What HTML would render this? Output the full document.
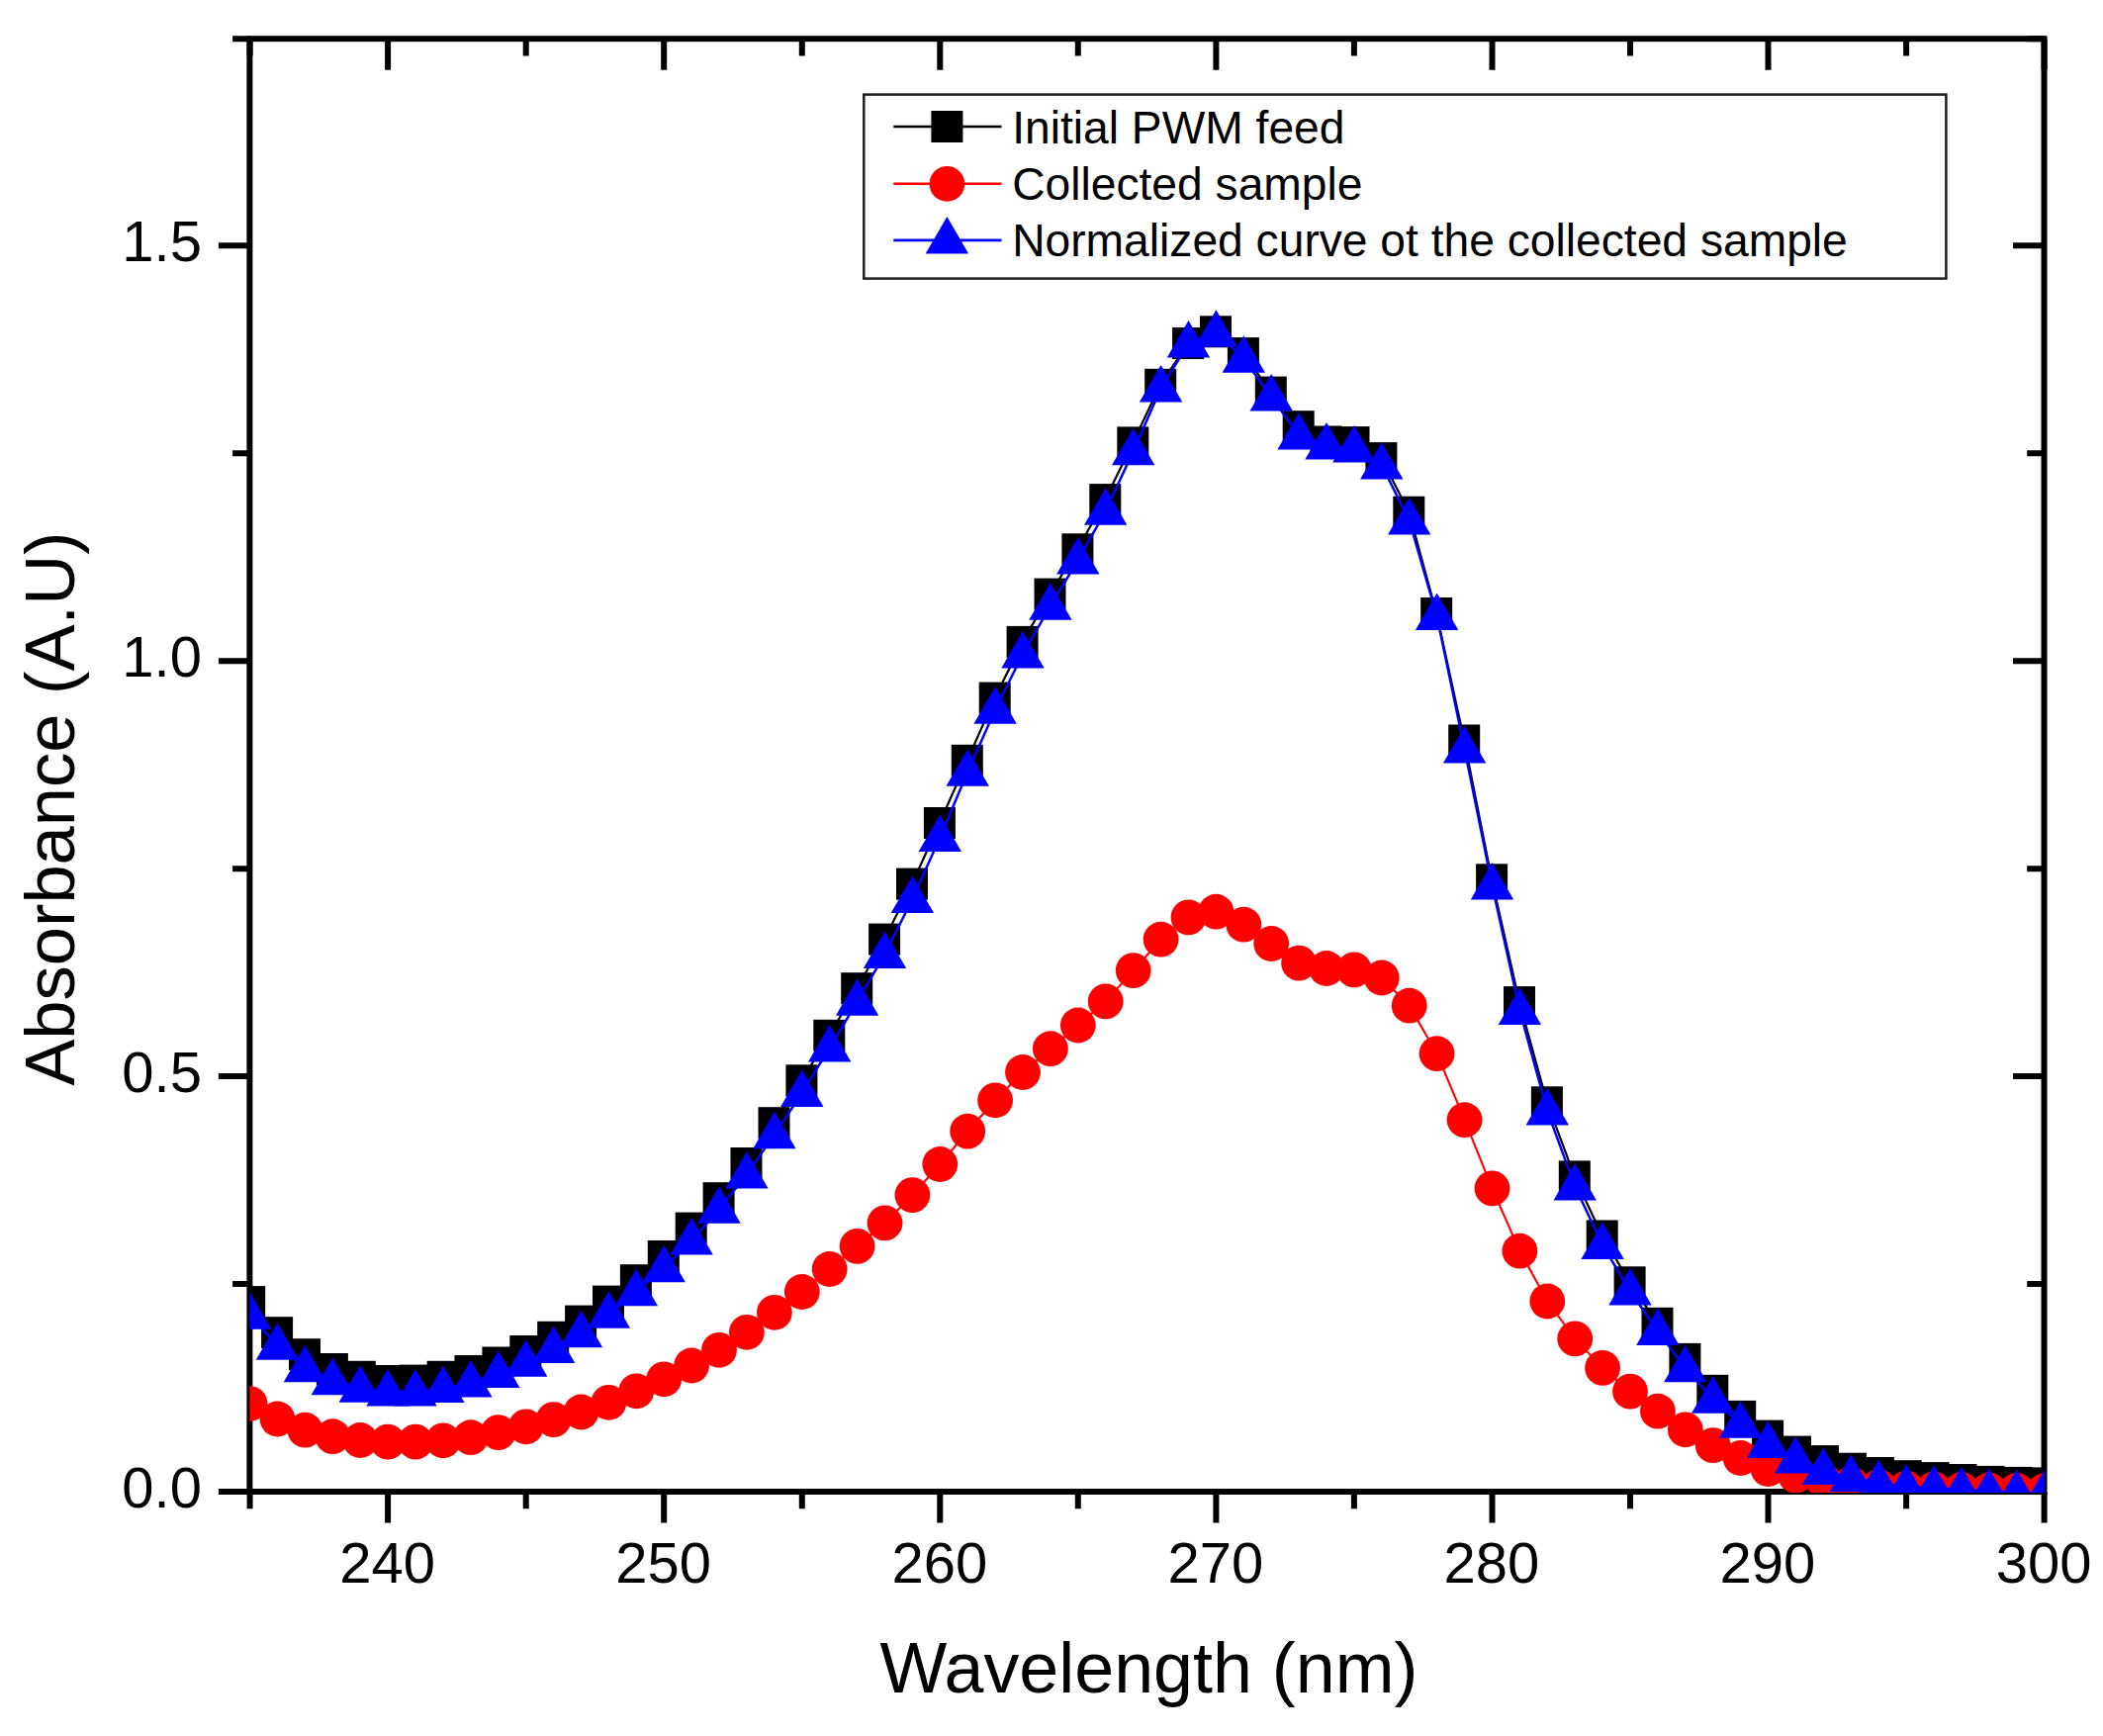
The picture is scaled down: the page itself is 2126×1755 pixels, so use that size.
<!DOCTYPE html>
<html lang="en"><head><meta charset="utf-8"><title>UV absorbance spectra</title>
<style>html,body{margin:0;padding:0;background:#fff}body{width:2126px;height:1755px;overflow:hidden}svg{display:block}text{font-family:"Liberation Sans",Arial,Helvetica,sans-serif;fill:#000}</style></head><body>
<svg width="2126" height="1755" viewBox="0 0 2126 1755">
<rect width="2126" height="1755" fill="#fff"/>
<defs><clipPath id="plot"><rect x="252.4" y="39.2" width="1814.6" height="1469.8"/></clipPath></defs>
<g stroke="#000" stroke-width="6" fill="none" stroke-linecap="butt">
<rect x="252.4" y="39.2" width="1814.1" height="1468.8"/>
<path d="M252.6 1508v17.3M252.6 39.2v17.3M392.1 1508v31.5M392.1 39.2v31.5M531.7 1508v17.3M531.7 39.2v17.3M671.2 1508v31.5M671.2 39.2v31.5M810.8 1508v17.3M810.8 39.2v17.3M950.3 1508v31.5M950.3 39.2v31.5M1089.8 1508v17.3M1089.8 39.2v17.3M1229.4 1508v31.5M1229.4 39.2v31.5M1368.9 1508v17.3M1368.9 39.2v17.3M1508.5 1508v31.5M1508.5 39.2v31.5M1648 1508v17.3M1648 39.2v17.3M1787.5 1508v31.5M1787.5 39.2v31.5M1927.1 1508v17.3M1927.1 39.2v17.3M2066.6 1508v31.5M2066.6 39.2v31.5M252.4 1508h-31.5M2066.5 1508h-31.5M252.4 1298h-17.3M2066.5 1298h-17.3M252.4 1088.1h-31.5M2066.5 1088.1h-31.5M252.4 878.2h-17.3M2066.5 878.2h-17.3M252.4 668.2h-31.5M2066.5 668.2h-31.5M252.4 458.2h-17.3M2066.5 458.2h-17.3M252.4 248.3h-31.5M2066.5 248.3h-31.5M252.4 39.2h-17.3M2066.5 39.2h-17.3"/>
</g>
<g clip-path="url(#plot)">
<polyline points="252.2,1316.1 280.1,1347.2 308,1369.2 335.9,1384 363.8,1391.8 391.7,1396 419.6,1395.6 447.6,1391.8 475.5,1386 503.4,1377.5 531.3,1366 559.2,1351.8 587.1,1335.6 615,1315.6 642.9,1294.2 670.8,1270 698.7,1241.6 726.6,1211.2 754.5,1176 782.5,1135.2 810.4,1092.3 838.3,1046.8 866.2,999.2 894.1,949.6 922,893.6 949.9,832 977.8,768.8 1005.7,705.6 1033.6,648.9 1061.5,600.6 1089.4,555.3 1117.3,505.1 1145.3,447.4 1173.2,388.8 1201.1,347 1229,335.3 1256.9,357.1 1284.8,396.6 1312.7,431.2 1340.6,446.5 1368.5,447.1 1396.4,463.1 1424.3,517.7 1452.2,620 1480.2,748.5 1508.1,889.3 1536,1013.1 1563.9,1114.3 1591.8,1189.4 1619.7,1249.5 1647.6,1296.3 1675.5,1337.8 1703.4,1373.9 1731.3,1405.8 1759.2,1431.9 1787.1,1451.6 1815,1467.6 1843,1477.1 1870.9,1484.7 1898.8,1489 1926.7,1492.2 1954.6,1494.1 1982.5,1496 2010.4,1497.9 2038.3,1498.9 2066.2,1499.4" fill="none" stroke="#000" stroke-width="2.2"/>
<g fill="#000"><rect x="236.2" y="1300.1" width="32" height="32"/><rect x="264.1" y="1331.2" width="32" height="32"/><rect x="292" y="1353.2" width="32" height="32"/><rect x="319.9" y="1368" width="32" height="32"/><rect x="347.8" y="1375.8" width="32" height="32"/><rect x="375.7" y="1380" width="32" height="32"/><rect x="403.6" y="1379.6" width="32" height="32"/><rect x="431.6" y="1375.8" width="32" height="32"/><rect x="459.5" y="1370" width="32" height="32"/><rect x="487.4" y="1361.5" width="32" height="32"/><rect x="515.3" y="1350" width="32" height="32"/><rect x="543.2" y="1335.8" width="32" height="32"/><rect x="571.1" y="1319.6" width="32" height="32"/><rect x="599" y="1299.6" width="32" height="32"/><rect x="626.9" y="1278.2" width="32" height="32"/><rect x="654.8" y="1254" width="32" height="32"/><rect x="682.7" y="1225.6" width="32" height="32"/><rect x="710.6" y="1195.2" width="32" height="32"/><rect x="738.5" y="1160" width="32" height="32"/><rect x="766.5" y="1119.2" width="32" height="32"/><rect x="794.4" y="1076.3" width="32" height="32"/><rect x="822.3" y="1030.8" width="32" height="32"/><rect x="850.2" y="983.2" width="32" height="32"/><rect x="878.1" y="933.6" width="32" height="32"/><rect x="906" y="877.6" width="32" height="32"/><rect x="933.9" y="816" width="32" height="32"/><rect x="961.8" y="752.8" width="32" height="32"/><rect x="989.7" y="689.6" width="32" height="32"/><rect x="1017.6" y="632.9" width="32" height="32"/><rect x="1045.5" y="584.6" width="32" height="32"/><rect x="1073.4" y="539.3" width="32" height="32"/><rect x="1101.3" y="489.1" width="32" height="32"/><rect x="1129.3" y="431.4" width="32" height="32"/><rect x="1157.2" y="372.8" width="32" height="32"/><rect x="1185.1" y="331" width="32" height="32"/><rect x="1213" y="319.3" width="32" height="32"/><rect x="1240.9" y="341.1" width="32" height="32"/><rect x="1268.8" y="380.6" width="32" height="32"/><rect x="1296.7" y="415.2" width="32" height="32"/><rect x="1324.6" y="430.5" width="32" height="32"/><rect x="1352.5" y="431.1" width="32" height="32"/><rect x="1380.4" y="447.1" width="32" height="32"/><rect x="1408.3" y="501.7" width="32" height="32"/><rect x="1436.2" y="604" width="32" height="32"/><rect x="1464.2" y="732.5" width="32" height="32"/><rect x="1492.1" y="873.3" width="32" height="32"/><rect x="1520" y="997.1" width="32" height="32"/><rect x="1547.9" y="1098.3" width="32" height="32"/><rect x="1575.8" y="1173.4" width="32" height="32"/><rect x="1603.7" y="1233.5" width="32" height="32"/><rect x="1631.6" y="1280.3" width="32" height="32"/><rect x="1659.5" y="1321.8" width="32" height="32"/><rect x="1687.4" y="1357.9" width="32" height="32"/><rect x="1715.3" y="1389.8" width="32" height="32"/><rect x="1743.2" y="1415.9" width="32" height="32"/><rect x="1771.1" y="1435.6" width="32" height="32"/><rect x="1799" y="1451.6" width="32" height="32"/><rect x="1827" y="1461.1" width="32" height="32"/><rect x="1854.9" y="1468.7" width="32" height="32"/><rect x="1882.8" y="1473" width="32" height="32"/><rect x="1910.7" y="1476.2" width="32" height="32"/><rect x="1938.6" y="1478.1" width="32" height="32"/><rect x="1966.5" y="1480" width="32" height="32"/><rect x="1994.4" y="1481.9" width="32" height="32"/><rect x="2022.3" y="1482.9" width="32" height="32"/><rect x="2050.2" y="1483.4" width="32" height="32"/></g>
<polyline points="252.6,1419 280.5,1434.5 308.4,1445.7 336.3,1452.2 364.2,1456 392.1,1457.6 420,1457.6 448,1456.3 475.9,1453.2 503.8,1448.1 531.7,1442.3 559.6,1435.1 587.5,1427.5 615.4,1417.8 643.3,1406.3 671.2,1394.3 699.1,1380.5 727,1364.8 754.9,1346.8 782.9,1326.8 810.8,1306 838.7,1283 866.6,1259.9 894.5,1236.4 922.4,1208.1 950.3,1177 978.2,1143.7 1006.1,1112.3 1034,1084 1061.9,1060.2 1089.8,1036.5 1117.7,1012.4 1145.7,981.1 1173.6,949.7 1201.5,927.4 1229.4,921.7 1257.3,934.7 1285.2,954 1313.1,973.6 1341,979 1368.9,980.4 1396.8,988.5 1424.7,1016.7 1452.6,1065.2 1480.6,1132.2 1508.5,1201.4 1536.4,1264.7 1564.3,1315.5 1592.2,1353.4 1620.1,1382.9 1648,1406.6 1675.9,1426.7 1703.8,1445.3 1731.7,1461.1 1759.6,1474 1787.5,1485 1815.4,1491.8 1843.4,1496.6 1871.3,1500.3 1899.2,1503 1927.1,1504.6 1955,1505.3 1982.9,1506 2010.8,1506.5 2038.7,1506.9 2066.6,1507.2" fill="none" stroke="#f00" stroke-width="2.1"/>
<g fill="#f00"><circle cx="252.6" cy="1419" r="17.9"/><circle cx="280.5" cy="1434.5" r="17.9"/><circle cx="308.4" cy="1445.7" r="17.9"/><circle cx="336.3" cy="1452.2" r="17.9"/><circle cx="364.2" cy="1456" r="17.9"/><circle cx="392.1" cy="1457.6" r="17.9"/><circle cx="420" cy="1457.6" r="17.9"/><circle cx="448" cy="1456.3" r="17.9"/><circle cx="475.9" cy="1453.2" r="17.9"/><circle cx="503.8" cy="1448.1" r="17.9"/><circle cx="531.7" cy="1442.3" r="17.9"/><circle cx="559.6" cy="1435.1" r="17.9"/><circle cx="587.5" cy="1427.5" r="17.9"/><circle cx="615.4" cy="1417.8" r="17.9"/><circle cx="643.3" cy="1406.3" r="17.9"/><circle cx="671.2" cy="1394.3" r="17.9"/><circle cx="699.1" cy="1380.5" r="17.9"/><circle cx="727" cy="1364.8" r="17.9"/><circle cx="754.9" cy="1346.8" r="17.9"/><circle cx="782.9" cy="1326.8" r="17.9"/><circle cx="810.8" cy="1306" r="17.9"/><circle cx="838.7" cy="1283" r="17.9"/><circle cx="866.6" cy="1259.9" r="17.9"/><circle cx="894.5" cy="1236.4" r="17.9"/><circle cx="922.4" cy="1208.1" r="17.9"/><circle cx="950.3" cy="1177" r="17.9"/><circle cx="978.2" cy="1143.7" r="17.9"/><circle cx="1006.1" cy="1112.3" r="17.9"/><circle cx="1034" cy="1084" r="17.9"/><circle cx="1061.9" cy="1060.2" r="17.9"/><circle cx="1089.8" cy="1036.5" r="17.9"/><circle cx="1117.7" cy="1012.4" r="17.9"/><circle cx="1145.7" cy="981.1" r="17.9"/><circle cx="1173.6" cy="949.7" r="17.9"/><circle cx="1201.5" cy="927.4" r="17.9"/><circle cx="1229.4" cy="921.7" r="17.9"/><circle cx="1257.3" cy="934.7" r="17.9"/><circle cx="1285.2" cy="954" r="17.9"/><circle cx="1313.1" cy="973.6" r="17.9"/><circle cx="1341" cy="979" r="17.9"/><circle cx="1368.9" cy="980.4" r="17.9"/><circle cx="1396.8" cy="988.5" r="17.9"/><circle cx="1424.7" cy="1016.7" r="17.9"/><circle cx="1452.6" cy="1065.2" r="17.9"/><circle cx="1480.6" cy="1132.2" r="17.9"/><circle cx="1508.5" cy="1201.4" r="17.9"/><circle cx="1536.4" cy="1264.7" r="17.9"/><circle cx="1564.3" cy="1315.5" r="17.9"/><circle cx="1592.2" cy="1353.4" r="17.9"/><circle cx="1620.1" cy="1382.9" r="17.9"/><circle cx="1648" cy="1406.6" r="17.9"/><circle cx="1675.9" cy="1426.7" r="17.9"/><circle cx="1703.8" cy="1445.3" r="17.9"/><circle cx="1731.7" cy="1461.1" r="17.9"/><circle cx="1759.6" cy="1474" r="17.9"/><circle cx="1787.5" cy="1485" r="17.9"/><circle cx="1815.4" cy="1491.8" r="17.9"/><circle cx="1843.4" cy="1496.6" r="17.9"/><circle cx="1871.3" cy="1500.3" r="17.9"/><circle cx="1899.2" cy="1503" r="17.9"/><circle cx="1927.1" cy="1504.6" r="17.9"/><circle cx="1955" cy="1505.3" r="17.9"/><circle cx="1982.9" cy="1506" r="17.9"/><circle cx="2010.8" cy="1506.5" r="17.9"/><circle cx="2038.7" cy="1506.9" r="17.9"/><circle cx="2066.6" cy="1507.2" r="17.9"/></g>
<polyline points="252.6,1329.6 280.5,1360.5 308.4,1383 336.3,1396 364.2,1403.6 392.1,1407.4 420,1407.4 448,1403.8 475.9,1398.2 503.8,1388.8 531.7,1377.6 559.6,1363.7 587.5,1348 615.4,1328.5 643.3,1306.1 671.2,1282 699.1,1254.4 727,1222.5 754.9,1187.3 782.9,1147.1 810.8,1104.9 838.7,1059.3 866.6,1012.6 894.5,964.7 922.4,908.8 950.3,846.7 978.2,780.5 1006.1,717.5 1034,661.2 1061.9,612.6 1089.8,566.3 1117.7,516.6 1145.7,456.1 1173.6,392.4 1201.5,347.4 1229.4,336.5 1257.3,362.5 1285.2,401.2 1313.1,440.3 1341,450.2 1368.9,453.3 1396.8,470.2 1424.7,526.2 1452.6,622.8 1480.6,757.4 1508.5,895.2 1536.4,1021.7 1564.3,1123.4 1592.2,1199.2 1620.1,1258.8 1648,1305.2 1675.9,1345.8 1703.8,1383 1731.7,1414.6 1759.6,1439.5 1787.5,1459.9 1815.4,1475.3 1843.4,1486.9 1871.3,1493.8 1899.2,1498.9 1927.1,1503.2 1955,1504.3 1982.9,1506.1 2010.8,1507.7 2038.7,1508.7 2066.6,1509.4" fill="none" stroke="#00f" stroke-width="2.5"/>
<g fill="#00f"><path d="M252.6 1306.3l21.7 37.5h-43.4z"/><path d="M280.5 1337.2l21.7 37.5h-43.4z"/><path d="M308.4 1359.7l21.7 37.5h-43.4z"/><path d="M336.3 1372.7l21.7 37.5h-43.4z"/><path d="M364.2 1380.3l21.7 37.5h-43.4z"/><path d="M392.1 1384.1l21.7 37.5h-43.4z"/><path d="M420 1384.1l21.7 37.5h-43.4z"/><path d="M448 1380.5l21.7 37.5h-43.4z"/><path d="M475.9 1374.9l21.7 37.5h-43.4z"/><path d="M503.8 1365.5l21.7 37.5h-43.4z"/><path d="M531.7 1354.3l21.7 37.5h-43.4z"/><path d="M559.6 1340.4l21.7 37.5h-43.4z"/><path d="M587.5 1324.8l21.7 37.5h-43.4z"/><path d="M615.4 1305.2l21.7 37.5h-43.4z"/><path d="M643.3 1282.8l21.7 37.5h-43.4z"/><path d="M671.2 1258.7l21.7 37.5h-43.4z"/><path d="M699.1 1231.1l21.7 37.5h-43.4z"/><path d="M727 1199.2l21.7 37.5h-43.4z"/><path d="M754.9 1164l21.7 37.5h-43.4z"/><path d="M782.9 1123.8l21.7 37.5h-43.4z"/><path d="M810.8 1081.6l21.7 37.5h-43.4z"/><path d="M838.7 1036l21.7 37.5h-43.4z"/><path d="M866.6 989.3l21.7 37.5h-43.4z"/><path d="M894.5 941.4l21.7 37.5h-43.4z"/><path d="M922.4 885.5l21.7 37.5h-43.4z"/><path d="M950.3 823.4l21.7 37.5h-43.4z"/><path d="M978.2 757.2l21.7 37.5h-43.4z"/><path d="M1006.1 694.2l21.7 37.5h-43.4z"/><path d="M1034 637.9l21.7 37.5h-43.4z"/><path d="M1061.9 589.3l21.7 37.5h-43.4z"/><path d="M1089.8 543l21.7 37.5h-43.4z"/><path d="M1117.7 493.3l21.7 37.5h-43.4z"/><path d="M1145.7 432.8l21.7 37.5h-43.4z"/><path d="M1173.6 369.1l21.7 37.5h-43.4z"/><path d="M1201.5 324.1l21.7 37.5h-43.4z"/><path d="M1229.4 313.2l21.7 37.5h-43.4z"/><path d="M1257.3 339.2l21.7 37.5h-43.4z"/><path d="M1285.2 377.9l21.7 37.5h-43.4z"/><path d="M1313.1 417l21.7 37.5h-43.4z"/><path d="M1341 426.9l21.7 37.5h-43.4z"/><path d="M1368.9 430l21.7 37.5h-43.4z"/><path d="M1396.8 446.9l21.7 37.5h-43.4z"/><path d="M1424.7 503l21.7 37.5h-43.4z"/><path d="M1452.6 599.5l21.7 37.5h-43.4z"/><path d="M1480.6 734.1l21.7 37.5h-43.4z"/><path d="M1508.5 871.9l21.7 37.5h-43.4z"/><path d="M1536.4 998.4l21.7 37.5h-43.4z"/><path d="M1564.3 1100.1l21.7 37.5h-43.4z"/><path d="M1592.2 1175.9l21.7 37.5h-43.4z"/><path d="M1620.1 1235.5l21.7 37.5h-43.4z"/><path d="M1648 1281.9l21.7 37.5h-43.4z"/><path d="M1675.9 1322.5l21.7 37.5h-43.4z"/><path d="M1703.8 1359.7l21.7 37.5h-43.4z"/><path d="M1731.7 1391.3l21.7 37.5h-43.4z"/><path d="M1759.6 1416.2l21.7 37.5h-43.4z"/><path d="M1787.5 1436.6l21.7 37.5h-43.4z"/><path d="M1815.4 1452l21.7 37.5h-43.4z"/><path d="M1843.4 1463.6l21.7 37.5h-43.4z"/><path d="M1871.3 1470.5l21.7 37.5h-43.4z"/><path d="M1899.2 1475.6l21.7 37.5h-43.4z"/><path d="M1927.1 1479.9l21.7 37.5h-43.4z"/><path d="M1955 1481l21.7 37.5h-43.4z"/><path d="M1982.9 1482.8l21.7 37.5h-43.4z"/><path d="M2010.8 1484.4l21.7 37.5h-43.4z"/><path d="M2038.7 1485.4l21.7 37.5h-43.4z"/><path d="M2066.6 1486.1l21.7 37.5h-43.4z"/></g>
</g>
<g font-size="58" text-anchor="middle">
<text x="391.6" y="1600.4">240</text>
<text x="670.7" y="1600.4">250</text>
<text x="949.8" y="1600.4">260</text>
<text x="1228.9" y="1600.4">270</text>
<text x="1508" y="1600.4">280</text>
<text x="1787" y="1600.4">290</text>
<text x="2066.1" y="1600.4">300</text>
</g>
<g font-size="58" text-anchor="end">
<text x="204" y="1524.1">0.0</text>
<text x="204" y="1104.2">0.5</text>
<text x="204" y="684.3">1.0</text>
<text x="204" y="264.4">1.5</text>
</g>
<text x="1161.4" y="1711" font-size="71.8" text-anchor="middle">Wavelength (nm)</text>
<text transform="translate(74.8 817.6) rotate(-90)" font-size="70.5" text-anchor="middle">Absorbance (A.U)</text>
<rect x="873.3" y="95.6" width="1094.1" height="186" fill="#fff" stroke="#1c1c1c" stroke-width="2.5"/>
<path d="M903.3 128H1012.5" stroke="#000" stroke-width="2.5" fill="none"/>
<rect x="941.4" y="112" width="32" height="32" fill="#000"/>
<text x="1023.2" y="144.6" font-size="46.2">Initial PWM feed</text>
<path d="M903.3 185.8H1012.5" stroke="#f00" stroke-width="2.4" fill="none"/>
<circle cx="957.4" cy="185.8" r="17.9" fill="#f00"/>
<text x="1023.2" y="201.6" font-size="46.2">Collected sample</text>
<path d="M903.3 242.9H1012.5" stroke="#00f" stroke-width="2.8" fill="none"/>
<path d="M957.4 218.9l21.7 37.5h-43.4z" fill="#00f"/>
<text x="1023.2" y="259.2" font-size="46.2">Normalized curve ot the collected sample</text>
</svg></body></html>
